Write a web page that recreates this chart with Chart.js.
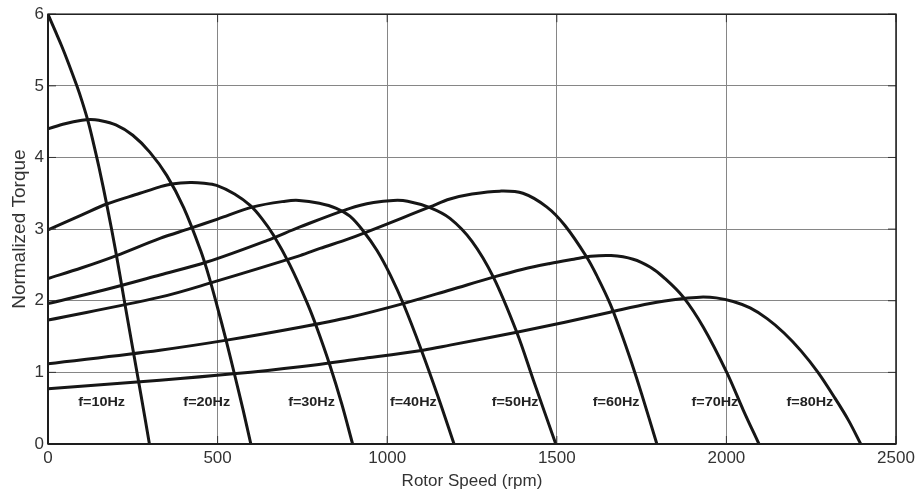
<!DOCTYPE html>
<html>
<head>
<meta charset="utf-8">
<script src="https://cdn.jsdelivr.net/npm/chart.js@4.4.0/dist/chart.umd.min.js"></script>
<style>
  html, body { margin: 0; padding: 0; background: #fff; }
</style>
</head>
<body>
<canvas id="torqueChart" width="917" height="492"></canvas>
<script>
// torque-speed curves, one pair of arrays per supply frequency (rpm, normalized torque)
const speed10 = [0, 20, 40, 60, 85, 100, 119, 135, 150, 175, 200, 225, 250, 275, 299];
const torque10 = [6.0, 5.78, 5.56, 5.32, 5.0, 4.79, 4.49, 4.18, 3.87, 3.30, 2.68, 2.0, 1.33, 0.66, 0];

const speed20 = [0, 50, 100, 125, 150, 200, 250, 300, 350, 400, 450, 475, 500, 525, 550, 575, 598];
const torque20 = [4.40, 4.47, 4.52, 4.53, 4.52, 4.455, 4.31, 4.075, 3.75, 3.30, 2.70, 2.33, 1.90, 1.45, 0.97, 0.48, 0];

const speed30 = [0, 100, 173, 271, 330, 365, 419, 460, 497, 550, 596, 630, 664, 713, 763, 792, 831, 866, 898];
const torque30 = [2.99, 3.20, 3.35, 3.50, 3.59, 3.63, 3.65, 3.64, 3.61, 3.49, 3.33, 3.15, 2.92, 2.50, 1.98, 1.63, 1.10, 0.56, 0];

const speed40 = [0, 100, 202, 330, 419, 500, 605, 700, 740, 800, 850, 890, 930, 970, 1010, 1050, 1100, 1150, 1197];
const torque40 = [2.31, 2.46, 2.63, 2.87, 3.01, 3.14, 3.31, 3.39, 3.40, 3.36, 3.29, 3.18, 2.97, 2.70, 2.35, 1.93, 1.32, 0.66, 0];

const speed50 = [0, 165, 330, 468, 645, 743, 890, 960, 1018, 1060, 1126, 1185, 1250, 1313, 1382, 1431, 1497];
const torque50 = [1.96, 2.15, 2.36, 2.54, 2.84, 3.03, 3.29, 3.37, 3.40, 3.39, 3.30, 3.15, 2.83, 2.33, 1.56, 0.89, 0];

const speed60 = [0, 330, 487, 743, 802, 890, 1126, 1185, 1250, 1332, 1400, 1470, 1524, 1588, 1620, 1657, 1690, 1720, 1750, 1795];
const torque60 = [1.73, 2.05, 2.26, 2.63, 2.73, 2.87, 3.31, 3.42, 3.49, 3.53, 3.50, 3.31, 3.05, 2.61, 2.33, 1.96, 1.55, 1.14, 0.70, 0];

const speed70 = [0, 330, 527, 743, 890, 1047, 1185, 1313, 1400, 1480, 1550, 1600, 1660, 1725, 1775, 1819, 1873, 1932, 2001, 2050, 2096];
const torque70 = [1.12, 1.31, 1.45, 1.63, 1.77, 1.96, 2.15, 2.33, 2.44, 2.52, 2.58, 2.62, 2.63, 2.58, 2.47, 2.31, 2.05, 1.63, 1.0, 0.47, 0];

const speed80 = [0, 330, 546, 743, 920, 1106, 1185, 1382, 1524, 1657, 1775, 1873, 1922, 1970, 2020, 2070, 2120, 2170, 2220, 2270, 2320, 2360, 2396];
const torque80 = [0.77, 0.89, 0.98, 1.08, 1.19, 1.31, 1.38, 1.56, 1.70, 1.84, 1.96, 2.03, 2.05, 2.04, 1.99, 1.90, 1.75, 1.55, 1.30, 1.0, 0.64, 0.33, 0];

// frequency tags written inside the plot
const freqLabels = ['f=10Hz', 'f=20Hz', 'f=30Hz', 'f=40Hz', 'f=50Hz', 'f=60Hz', 'f=70Hz', 'f=80Hz'];
const labelSpeed = [158, 468, 777, 1077, 1377, 1675, 1966, 2246];
const labelTorque = 0.57;

const xTicks = [0, 500, 1000, 1500, 2000, 2500];
const yTicks = [0, 1, 2, 3, 4, 5, 6];

const curves = [
    { speed: speed10, torque: torque10 },
    { speed: speed20, torque: torque20 },
    { speed: speed30, torque: torque30 },
    { speed: speed40, torque: torque40 },
    { speed: speed50, torque: torque50 },
    { speed: speed60, torque: torque60 },
    { speed: speed70, torque: torque70 },
    { speed: speed80, torque: torque80 }
];

const datasets = curves.map((c, k) => ({
    label: freqLabels[k],
    data: c.speed.map((s, i) => ({ x: s, y: c.torque[i] })),
    borderColor: '#161616',
    borderWidth: 3,
    pointRadius: 0,
    fill: false,
    tension: 0.35
}));

// frequency tags go under the curves
const freqTags = {
    id: 'freqTags',
    beforeDatasetsDraw(chart) {
        const { ctx, scales: { x, y } } = chart;
        ctx.save();
        ctx.font = 'bold 12px Arial, "Liberation Sans", sans-serif';
        ctx.fillStyle = '#222';
        ctx.textAlign = 'center';
        ctx.textBaseline = 'middle';
        freqLabels.forEach((t, i) => {
            ctx.save();
            ctx.translate(x.getPixelForValue(labelSpeed[i]), y.getPixelForValue(labelTorque));
            ctx.scale(1.2, 1);
            ctx.fillText(t, 0, 0);
            ctx.restore();
        });
        ctx.restore();
    }
};

// box round the plot with short inward tick marks
const frameBox = {
    id: 'frameBox',
    afterDatasetsDraw(chart) {
        const { ctx, chartArea: a, scales: { x, y } } = chart;
        const seg = (x1, y1, x2, y2) => {
            ctx.beginPath();
            ctx.moveTo(x1, y1);
            ctx.lineTo(x2, y2);
            ctx.stroke();
        };
        ctx.save();
        ctx.strokeStyle = '#333';
        ctx.lineWidth = 1;
        xTicks.forEach(v => {
            const px = x.getPixelForValue(v);
            seg(px, a.bottom, px, a.bottom - 8);
            seg(px, a.top, px, a.top + 8);
        });
        yTicks.forEach(v => {
            const py = y.getPixelForValue(v);
            seg(a.left, py, a.left + 8, py);
            seg(a.right, py, a.right - 8, py);
        });
        ctx.strokeStyle = '#1e1e1e';
        ctx.lineWidth = 1.5;
        ctx.strokeRect(a.left, a.top, a.right - a.left, a.bottom - a.top);
        ctx.lineWidth = 2;
        seg(a.left, a.top, a.left, a.bottom);
        seg(a.left, a.bottom, a.right, a.bottom);
        ctx.restore();
    }
};

Chart.defaults.font.family = 'Arial, "Liberation Sans", sans-serif';

new Chart(document.getElementById('torqueChart').getContext('2d'), {
    type: 'line',
    data: { datasets: datasets },
    options: {
        responsive: false,
        animation: false,
        layout: { padding: { top: 14, right: 21, left: 0, bottom: 0 } },
        plugins: {
            legend: { display: false },
            tooltip: { enabled: false }
        },
        scales: {
            x: {
                type: 'linear',
                min: 0,
                max: 2500,
                afterFit: s => {
                    s.height = 48;
                    s.paddingRight = 0;
                },
                ticks: {
                    stepSize: 500,
                    color: '#333',
                    font: { size: 17 },
                    padding: 4,
                    maxRotation: 0,
                    callback: v => String(v)
                },
                grid: { color: '#868686', lineWidth: 1, drawTicks: false },
                border: { display: false },
                title: {
                    display: true,
                    text: 'Rotor Speed (rpm)',
                    color: '#333',
                    font: { size: 17 },
                    padding: { top: 6, bottom: 0 }
                }
            },
            y: {
                min: 0,
                max: 6,
                afterFit: s => { s.width = 48; },
                ticks: { stepSize: 1, color: '#333', font: { size: 17 }, padding: 4 },
                grid: { color: '#868686', lineWidth: 1, drawTicks: false },
                border: { display: false },
                title: {
                    display: true,
                    text: 'Normalized Torque',
                    color: '#333',
                    font: { size: 19 },
                    padding: { top: 8, bottom: 0 }
                }
            }
        }
    },
    plugins: [freqTags, frameBox]
});
</script>
</body>
</html>
